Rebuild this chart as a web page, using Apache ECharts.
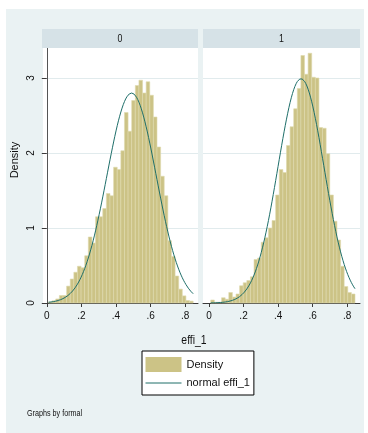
<!DOCTYPE html>
<html><head><meta charset="utf-8">
<script src="https://cdn.jsdelivr.net/npm/echarts@6/dist/echarts.min.js"></script>
<style>
html,body{margin:0;padding:0;background:#fff;}
#wrap{position:relative;width:368px;height:433px;overflow:hidden;}
#bg{position:absolute;left:6px;top:9px;width:358px;height:424px;background:#EAF2F3;}
#chart{position:absolute;left:0;top:0;width:368px;height:433px;}
</style></head><body>
<div id="wrap"><div id="bg"></div><div id="chart"></div></div>
<script>
// ---- data ----
const panels = ['0', '1'];
const binEdges = [0.0100,0.0309,0.0518,0.0727,0.0936,0.1145,0.1354,0.1563,0.1772,0.1981,
  0.2190,0.2399,0.2608,0.2817,0.3026,0.3235,0.3444,0.3653,0.3862,0.4071,
  0.4280,0.4489,0.4698,0.4907,0.5116,0.5325,0.5534,0.5743,0.5952,0.6161,
  0.6370,0.6579,0.6788,0.6997,0.7206,0.7415,0.7624,0.7833,0.8042,0.8251,0.8460];
const density0 = [0.014,0.03,0.054,0.10,0.10,0.225,0.32,0.41,0.49,0.47,
  0.63,0.88,0.80,1.15,1.15,1.26,1.46,1.43,1.81,1.78,
  2.03,2.54,2.29,2.70,2.90,2.97,2.80,2.95,2.77,2.48,
  2.08,1.69,1.43,0.83,0.62,0.36,0.185,0.095,0.033,0.025];
const density1 = [0.04,0.01,0.01,0.07,0.05,0.14,0.08,0.12,0.23,0.27,
  0.30,0.35,0.58,0.60,0.81,0.87,1.00,1.10,1.44,1.78,
  1.74,2.10,2.35,2.59,2.86,3.30,3.05,3.33,3.01,3.00,
  2.34,2.33,1.99,1.44,1.09,0.84,0.49,0.22,0.14,0.12];
const normMean = [0.490, 0.533];
const normSd = [0.1425, 0.1334];
const xTicks = [0, 0.2, 0.4, 0.6, 0.8];
const xTickLabels = ['0', '.2', '.4', '.6', '.8'];
const yTicks = [0, 1, 2, 3];
const xTitle = 'effi_1';
const yTitle = 'Density';
const legendNames = ['Density', 'normal effi_1'];
const note = 'Graphs by formal';

// ---- styles ----
const FONT = '"Liberation Sans",Arial,sans-serif';
const BAR = '#CCC386', BAR_EDGE = '#DFDAAE', LINE = '#1E6E69', AXIS = '#3a3a3a', GRID = '#E1EBED';
const NARROW = 0.8;

const densities = [density0, density1];
const gridsPos = [
  {left: 43, top: 48, width: 155, height: 255},
  {left: 203, top: 48, width: 157, height: 255}
];
const xRanges = [[-0.022, 0.874], [-0.035, 0.875]];

function normalCurve(k) {
  const pts = [];
  const a = binEdges[0], b = binEdges[binEdges.length - 1];
  const n = 120;
  for (let i = 0; i <= n; i++) {
    const x = a + (b - a) * i / n;
    const z = (x - normMean[k]) / normSd[k];
    pts.push([x, Math.exp(-0.5 * z * z) / (normSd[k] * Math.sqrt(2 * Math.PI))]);
  }
  return pts;
}

const grid = [], xAxis = [], yAxis = [], series = [];
panels.forEach((p, k) => {
  grid.push(Object.assign({show: true, backgroundColor: '#fff', borderWidth: 0}, gridsPos[k]));
  xAxis.push({
    type: 'value', gridIndex: k, min: xRanges[k][0], max: xRanges[k][1],
    axisLine: {show: true, onZero: false, lineStyle: {color: AXIS, width: 1}},
    axisTick: {show: true, length: 4, customValues: xTicks, lineStyle: {color: AXIS}},
    axisLabel: {show: true, customValues: xTicks, margin: 8, fontSize: 10, fontFamily: FONT, color: '#111',
      formatter: v => xTickLabels[xTicks.indexOf(Math.round(v * 10) / 10)] ?? ''},
    splitLine: {show: false}
  });
  yAxis.push({
    type: 'value', gridIndex: k, min: 0, max: 3.4,
    axisLine: {show: k === 0, lineStyle: {color: '#555', width: 1}},
    axisTick: {show: k === 0, length: 5, customValues: yTicks, lineStyle: {color: AXIS}},
    axisLabel: {show: k === 0, customValues: yTicks, rotate: 90, margin: 7, fontSize: 10, fontFamily: FONT, color: '#111'},
    splitLine: {show: true, lineStyle: {color: GRID, width: 1}}
  });
  const bins = densities[k].map((d, i) => [binEdges[i], binEdges[i + 1], d]);
  series.push({
    name: legendNames[0], type: 'custom', xAxisIndex: k, yAxisIndex: k,
    itemStyle: {color: BAR},
    encode: {x: [0, 1], y: 2},
    data: bins,
    renderItem: (params, api) => {
      const p0 = api.coord([api.value(0), api.value(2)]);
      const p1 = api.coord([api.value(1), 0]);
      return {type: 'rect', shape: {x: p0[0], y: p0[1], width: p1[0] - p0[0], height: p1[1] - p0[1]},
        style: {fill: BAR, stroke: BAR_EDGE, lineWidth: 0.6}};
    }
  });
  series.push({
    name: legendNames[1], type: 'line', xAxisIndex: k, yAxisIndex: k,
    data: normalCurve(k), symbol: 'none', showSymbol: false, smooth: false,
    lineStyle: {color: LINE, width: 1}, itemStyle: {color: LINE}, z: 5
  });
});

const chart = echarts.init(document.getElementById('chart'), null, {renderer: 'canvas'});
chart.setOption({
  animation: false,
  backgroundColor: 'transparent',
  grid, xAxis, yAxis, series,
  legend: {
    data: [
      {name: legendNames[0], icon: 'rect'},
      {name: legendNames[1], itemStyle: {opacity: 0}, lineStyle: {color: LINE, width: 1}}
    ],
    orient: 'vertical', left: 142, top: 351,
    itemWidth: 36, itemHeight: 15, itemGap: 5,
    padding: [6, 4, 6, 3],
    backgroundColor: '#fff', borderColor: '#000', borderWidth: 1, borderRadius: 0,
    textStyle: {fontSize: 11, fontFamily: FONT, color: '#111'},
    selectedMode: false
  },
  graphic: [
    {type: 'rect', shape: {x: 42, y: 29, width: 156, height: 19}, style: {fill: '#D6E2E7'}, z: 1},
    {type: 'rect', shape: {x: 203, y: 29, width: 157, height: 19}, style: {fill: '#D6E2E7'}, z: 1},
    {type: 'text', x: 120, y: 39, scaleX: NARROW, style: {text: panels[0], fontSize: 11, fontFamily: FONT, fill: '#111', align: 'center', verticalAlign: 'middle'}, z: 2},
    {type: 'text', x: 281.5, y: 39, scaleX: NARROW, style: {text: panels[1], fontSize: 11, fontFamily: FONT, fill: '#111', align: 'center', verticalAlign: 'middle'}, z: 2},
    {type: 'text', x: 15, y: 160, rotation: Math.PI / 2, style: {text: yTitle, fontSize: 11, fontFamily: FONT, fill: '#111', align: 'center', verticalAlign: 'middle'}, z: 2},
    {type: 'text', x: 194, y: 340, scaleX: NARROW, style: {text: xTitle, fontSize: 13, fontFamily: FONT, fill: '#111', align: 'center', verticalAlign: 'middle'}, z: 2},
    {type: 'text', x: 27, y: 414, scaleX: NARROW, style: {text: note, fontSize: 9, fontFamily: FONT, fill: '#111', align: 'left', verticalAlign: 'middle'}, z: 2}
  ]
});
</script>
</body></html>
